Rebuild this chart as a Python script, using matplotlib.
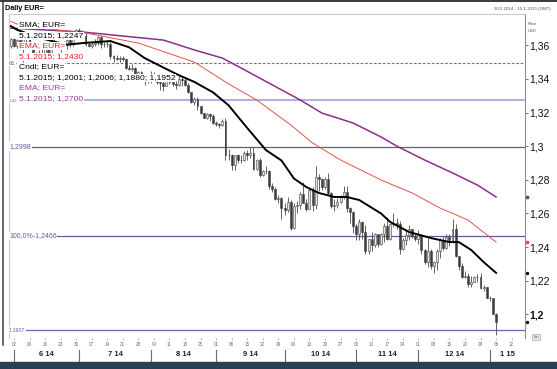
import matplotlib
matplotlib.use('Agg')
import matplotlib.pyplot as plt
import matplotlib.transforms as mtrans
import pandas as pd

plt.rcParams['font.family'] = ['Liberation Sans', 'DejaVu Sans']

# ---------------- data ----------------
axis_days = pd.bdate_range('2014-05-30', '2015-01-16')
dates = pd.bdate_range('2014-05-30', '2015-01-05')

opens = [1.3595, 1.3635, 1.3595, 1.3630, 1.3600, 1.3660, 1.3640, 1.3590, 1.3545, 1.3530,
         1.3545, 1.3540, 1.3575, 1.3545, 1.3595, 1.3610, 1.3600, 1.3595, 1.3605, 1.3630,
         1.3610, 1.3645, 1.3690, 1.3680, 1.3655, 1.3610, 1.3595, 1.3605, 1.3615, 1.3650,
         1.3610, 1.3605, 1.3610, 1.3535, 1.3525, 1.3520, 1.3525, 1.3520, 1.3465, 1.3460,
         1.3465, 1.3430, 1.3440, 1.3405, 1.3395, 1.3390, 1.3425, 1.3415, 1.3380, 1.3375,
         1.3360, 1.3410, 1.3380, 1.3370, 1.3365, 1.3400, 1.3395, 1.3365, 1.3320, 1.3260,
         1.3280, 1.3240, 1.3195, 1.3170, 1.3190, 1.3180, 1.3135, 1.3130, 1.3125, 1.3150,
         1.2945, 1.2950, 1.2890, 1.2945, 1.2915, 1.2920, 1.2960, 1.2950, 1.2960, 1.2865,
         1.2920, 1.2830, 1.2850, 1.2855, 1.2765, 1.2745, 1.2685, 1.2690, 1.2630, 1.2620,
         1.2670, 1.2515, 1.2645, 1.2650, 1.2715, 1.2665, 1.2625, 1.2740, 1.2650, 1.2815,
         1.2805, 1.2760, 1.2805, 1.2720, 1.2645, 1.2650, 1.2670, 1.2700, 1.2730, 1.2630,
         1.2610, 1.2525, 1.2480, 1.2550, 1.2490, 1.2375, 1.2450, 1.2410, 1.2475, 1.2420,
         1.2475, 1.2525, 1.2450, 1.2540, 1.2545, 1.2540, 1.2390, 1.2440, 1.2470, 1.2505,
         1.2465, 1.2450, 1.2470, 1.2385, 1.2310, 1.2375, 1.2285, 1.2310, 1.2375, 1.2440,
         1.2395, 1.2460, 1.2440, 1.2510, 1.2345, 1.2290, 1.2225, 1.2230, 1.2180, 1.2195,
         1.2220, 1.2225, 1.2155, 1.2160, 1.2100, 1.2095, 1.2001]
highs = [1.3645, 1.3645, 1.3640, 1.3640, 1.3670, 1.3680, 1.3650, 1.3595, 1.3560, 1.3570,
         1.3580, 1.3600, 1.3590, 1.3600, 1.3645, 1.3615, 1.3605, 1.3625, 1.3640, 1.3640,
         1.3650, 1.3695, 1.3700, 1.3690, 1.3675, 1.3620, 1.3625, 1.3640, 1.3655, 1.3655,
         1.3620, 1.3625, 1.3620, 1.3545, 1.3545, 1.3535, 1.3535, 1.3525, 1.3480, 1.3490,
         1.3470, 1.3445, 1.3445, 1.3415, 1.3410, 1.3445, 1.3440, 1.3425, 1.3385, 1.3400,
         1.3430, 1.3415, 1.3395, 1.3385, 1.3415, 1.3420, 1.3405, 1.3375, 1.3320, 1.3295,
         1.3290, 1.3240, 1.3200, 1.3200, 1.3195, 1.3190, 1.3150, 1.3140, 1.3160, 1.3165,
         1.2985, 1.2955, 1.2950, 1.2955, 1.2945, 1.2970, 1.2975, 1.2995, 1.2995, 1.2925,
         1.2930, 1.2860, 1.2885, 1.2860, 1.2780, 1.2760, 1.2710, 1.2700, 1.2665, 1.2700,
         1.2680, 1.2660, 1.2675, 1.2730, 1.2790, 1.2685, 1.2750, 1.2760, 1.2885, 1.2835,
         1.2810, 1.2815, 1.2840, 1.2730, 1.2685, 1.2690, 1.2710, 1.2765, 1.2765, 1.2640,
         1.2615, 1.2540, 1.2565, 1.2555, 1.2530, 1.2450, 1.2490, 1.2485, 1.2480, 1.2485,
         1.2545, 1.2580, 1.2545, 1.2600, 1.2575, 1.2555, 1.2455, 1.2500, 1.2530, 1.2510,
         1.2475, 1.2500, 1.2475, 1.2390, 1.2455, 1.2390, 1.2320, 1.2390, 1.2455, 1.2465,
         1.2475, 1.2475, 1.2570, 1.2535, 1.2350, 1.2305, 1.2260, 1.2245, 1.2230, 1.2230,
         1.2240, 1.2245, 1.2175, 1.2165, 1.2110, 1.2095, 1.2006]
lows = [1.3585, 1.3590, 1.3585, 1.3590, 1.3503, 1.3620, 1.3580, 1.3530, 1.3520, 1.3520,
        1.3535, 1.3540, 1.3535, 1.3540, 1.3585, 1.3580, 1.3560, 1.3580, 1.3580, 1.3590,
        1.3595, 1.3635, 1.3670, 1.3645, 1.3595, 1.3590, 1.3585, 1.3595, 1.3600, 1.3585,
        1.3590, 1.3590, 1.3520, 1.3500, 1.3515, 1.3500, 1.3505, 1.3460, 1.3450, 1.3445,
        1.3420, 1.3420, 1.3400, 1.3365, 1.3375, 1.3375, 1.3410, 1.3370, 1.3335, 1.3330,
        1.3360, 1.3370, 1.3355, 1.3340, 1.3360, 1.3360, 1.3360, 1.3315, 1.3255, 1.3245,
        1.3215, 1.3190, 1.3165, 1.3160, 1.3150, 1.3130, 1.3120, 1.3110, 1.3120, 1.2920,
        1.2920, 1.2860, 1.2860, 1.2900, 1.2900, 1.2910, 1.2920, 1.2930, 1.2860, 1.2860,
        1.2815, 1.2820, 1.2835, 1.2745, 1.2730, 1.2680, 1.2660, 1.2570, 1.2590, 1.2610,
        1.2500, 1.2505, 1.2605, 1.2625, 1.2660, 1.2615, 1.2625, 1.2615, 1.2625, 1.2735,
        1.2740, 1.2745, 1.2710, 1.2630, 1.2615, 1.2630, 1.2665, 1.2685, 1.2610, 1.2545,
        1.2485, 1.2440, 1.2445, 1.2450, 1.2360, 1.2360, 1.2375, 1.2400, 1.2400, 1.2415,
        1.2430, 1.2445, 1.2440, 1.2520, 1.2510, 1.2360, 1.2385, 1.2415, 1.2445, 1.2455,
        1.2435, 1.2420, 1.2360, 1.2300, 1.2280, 1.2270, 1.2245, 1.2265, 1.2335, 1.2380,
        1.2390, 1.2405, 1.2425, 1.2340, 1.2265, 1.2215, 1.2215, 1.2165, 1.2165, 1.2190,
        1.2195, 1.2150, 1.2140, 1.2095, 1.2080, 1.2000, 1.1880]
closes = [1.3635, 1.3595, 1.3630, 1.3600, 1.3660, 1.3640, 1.3590, 1.3545, 1.3530, 1.3545,
          1.3540, 1.3575, 1.3545, 1.3595, 1.3610, 1.3600, 1.3595, 1.3605, 1.3630, 1.3610,
          1.3645, 1.3690, 1.3680, 1.3655, 1.3610, 1.3595, 1.3605, 1.3615, 1.3650, 1.3610,
          1.3605, 1.3610, 1.3535, 1.3525, 1.3520, 1.3525, 1.3520, 1.3465, 1.3460, 1.3465,
          1.3430, 1.3440, 1.3405, 1.3395, 1.3390, 1.3425, 1.3415, 1.3380, 1.3375, 1.3360,
          1.3410, 1.3380, 1.3370, 1.3365, 1.3400, 1.3395, 1.3365, 1.3320, 1.3260, 1.3280,
          1.3240, 1.3195, 1.3170, 1.3190, 1.3180, 1.3135, 1.3130, 1.3125, 1.3150, 1.2945,
          1.2950, 1.2890, 1.2945, 1.2915, 1.2920, 1.2960, 1.2950, 1.2960, 1.2865, 1.2920,
          1.2830, 1.2850, 1.2855, 1.2765, 1.2745, 1.2685, 1.2690, 1.2630, 1.2620, 1.2670,
          1.2515, 1.2645, 1.2650, 1.2715, 1.2665, 1.2625, 1.2740, 1.2650, 1.2815, 1.2805,
          1.2760, 1.2805, 1.2720, 1.2645, 1.2650, 1.2670, 1.2700, 1.2730, 1.2630, 1.2610,
          1.2525, 1.2480, 1.2550, 1.2490, 1.2375, 1.2450, 1.2410, 1.2475, 1.2420, 1.2475,
          1.2525, 1.2450, 1.2540, 1.2545, 1.2540, 1.2390, 1.2440, 1.2470, 1.2505, 1.2465,
          1.2450, 1.2470, 1.2385, 1.2310, 1.2375, 1.2285, 1.2310, 1.2375, 1.2440, 1.2395,
          1.2460, 1.2440, 1.2510, 1.2345, 1.2290, 1.2225, 1.2230, 1.2180, 1.2195, 1.2220,
          1.2225, 1.2155, 1.2160, 1.2100, 1.2095, 1.2001, 1.1952]

sma_dates = ['2014-05-30', '2014-06-03', '2014-06-12', '2014-06-25', '2014-07-02', '2014-07-15',
             '2014-07-23', '2014-07-30', '2014-08-07', '2014-08-14', '2014-08-21', '2014-08-29',
             '2014-09-05', '2014-09-15', '2014-09-23', '2014-09-30', '2014-10-06', '2014-10-10',
             '2014-10-16', '2014-10-23', '2014-10-29', '2014-11-04', '2014-11-13', '2014-11-18',
             '2014-11-26', '2014-12-05', '2014-12-15', '2014-12-18', '2014-12-24', '2014-12-30',
             '2015-01-05']
sma_vals = [1.3714, 1.3692, 1.3645, 1.3603, 1.3613, 1.3625, 1.3588, 1.3524, 1.3468, 1.3422,
            1.3382, 1.3320, 1.3243, 1.3108, 1.2977, 1.2915, 1.2808, 1.2757, 1.2722, 1.2698,
            1.2698, 1.2680, 1.2600, 1.2549, 1.2490, 1.2454, 1.2430, 1.2430, 1.2383, 1.2311,
            1.2247]

ema_red_dates = ['2014-05-30', '2014-06-03', '2014-06-18', '2014-07-03', '2014-07-28', '2014-08-21',
                 '2014-09-05', '2014-09-18', '2014-10-03', '2014-10-14', '2014-10-27', '2014-11-13',
                 '2014-11-27', '2014-12-10', '2014-12-23', '2014-12-29', '2015-01-05']
ema_red_vals = [1.3742, 1.3726, 1.3695, 1.3673, 1.3613, 1.3500, 1.3370, 1.3275, 1.3126, 1.3019,
                1.2918, 1.2799, 1.2722, 1.2632, 1.2561, 1.2502, 1.2430]

ema_pur_dates = ['2014-05-30', '2014-07-02', '2014-08-07', '2014-08-21', '2014-09-03', '2014-09-11',
                 '2014-10-08', '2014-10-17', '2014-10-31', '2014-11-13', '2014-11-20', '2014-12-03',
                 '2014-12-16', '2014-12-26', '2015-01-05']
ema_pur_vals = [1.3702, 1.3679, 1.3631, 1.3572, 1.3524, 1.3465, 1.3275, 1.3197, 1.3138, 1.3055,
                1.3001, 1.2918, 1.2841, 1.2769, 1.2698]

level_vals = [1.3493, 1.3274, 1.2998, 1.2466, 1.1907]
level_labels = ['61', '1,32', '1,2998', '100,0%-1,2466', '1.1907']

ytick_vals = [1.20, 1.22, 1.24, 1.26, 1.28, 1.30, 1.32, 1.34, 1.36]
ytick_labels = ['1,2', '1,22', '1,24', '1,26', '1,28', '1,3', '1,32', '1,34', '1,36']

week_dates = pd.date_range('2014-06-02', '2015-01-12', freq='7D')
week_labels = ['02', '09', '16', '23', '30', '07', '14', '21', '28', '04', '11', '18', '25',
               '01', '08', '15', '22', '29', '06', '13', '20', '27', '03', '10', '17', '24',
               '01', '08', '15', '22', '29', '05', '12']
month_starts = ['2014-06-02', '2014-07-01', '2014-08-01', '2014-09-01', '2014-10-01',
                '2014-11-03', '2014-12-01', '2015-01-01']
month_labels = ['6 14', '7 14', '8 14', '9 14', '10 14', '11 14', '12 14', '1 15']

legend_lines = [('SMA; EUR=', 'k'), ('5.1.2015; 1,2247', 'k'),
                ('EMA; EUR=', 'r'), ('5.1.2015; 1,2430', 'r'),
                ('Cndl; EUR=', 'k'), ('5.1.2015; 1,2001; 1,2006; 1,1880; 1,1952', 'k'),
                ('EMA; EUR=', 'p'), ('5.1.2015; 1,2700', 'p')]

# ---------------- drawing ----------------
W, H = 557, 369
fig = plt.figure(figsize=(W / 100, H / 100), dpi=100)
fig.patch.set_facecolor('white')

def fx(px):
    return px / W

def fy(py):
    return 1 - py / H

ax = fig.add_axes([fx(9), fy(338), fx(525) - fx(9), fy(14) - fy(338)])
ax.set_facecolor('white')

def pos(d):
    return axis_days.get_loc(pd.Timestamp(d))

idx = list(range(len(dates)))
RED = '#e8524a'
PUR = '#8a2f8a'
LEV = '#5c5c9e'
txtcol = {'k': '#000000', 'r': '#e32222', 'p': '#9b3a9b'}

# horizontal levels
ax.axhline(level_vals[0], color='#6f6fb3', lw=0.8, ls=(0, (2.5, 1.5)), zorder=1)
ax.axhline(level_vals[1], color='#a9a9dc', lw=1.3, zorder=1)
ax.axhline(level_vals[2], color=LEV, lw=0.9, zorder=1)
ax.axhline(level_vals[3], color=LEV, lw=0.9, zorder=1)
ax.axhline(level_vals[4], color='#6a6aaa', lw=0.9, zorder=1)

lbl_sizes = [4.3, 3.2, 5.0, 5.0, 3.8]
for v, t, s in zip(level_vals, level_labels, lbl_sizes):
    ax.text(0.0, v, t, transform=mtrans.blended_transform_factory(ax.transAxes, ax.transData),
            ha='left', va='center', fontsize=s, color=LEV, zorder=6,
            bbox=dict(boxstyle='square,pad=0.12', fc='white', ec='none'))

# moving averages
ax.plot([pos(d) for d in ema_pur_dates], ema_pur_vals, color=PUR, lw=1.1, zorder=2)
ax.plot([pos(d) for d in ema_red_dates], ema_red_vals, color=RED, lw=0.7, zorder=2)

# candles
for i in idx:
    o, h, l, c = opens[i], highs[i], lows[i], closes[i]
    ax.vlines(i, l, h, color='#4a4a4a', lw=0.6, zorder=3)
    up = c >= o
    ax.bar(i, max(abs(c - o), 0.00015), bottom=min(o, c), width=0.62,
           color='#e4e4e4' if up else '#3c3c3c', edgecolor='#404040', lw=0.4, zorder=4)

ax.plot([pos(d) for d in sma_dates], sma_vals, color='#000000', lw=1.4, zorder=5)

ax.set_xlim(-0.6, 165.3)
ax.set_ylim(1.18596, 1.37859)

# y axis on right
ax.yaxis.tick_right()
ax.set_yticks(ytick_vals)
ax.set_yticklabels(ytick_labels)
ax.tick_params(axis='y', length=2.2, width=0.6, color='#606060', pad=1, labelsize=7.5,
               labelcolor='#111111')
for lab in ax.get_yticklabels():
    if lab.get_text() == '1,2':
        lab.set_fontweight('bold')

# x axis
ax.set_xticks([pos(d) for d in week_dates])
ax.set_xticklabels(week_labels)
ax.tick_params(axis='x', length=1.5, width=0.5, color='#909090', pad=1.2, labelsize=3.3,
               labelcolor='#707070')

for sp in ['top', 'left']:
    ax.spines[sp].set_color('#c9c9d6')
    ax.spines[sp].set_linewidth(0.8)
ax.spines['right'].set_color('#8c8c8c')
ax.spines['right'].set_linewidth(0.8)
ax.spines['bottom'].set_visible(False)

# month labels and separators
bt = mtrans.blended_transform_factory(ax.transData, fig.transFigure)
m_pos = [pos(d) for d in month_starts] + [165.3]
for k, lab in enumerate(month_labels):
    ax.plot([m_pos[k], m_pos[k]], [fy(350), fy(361)], transform=bt, color='#6a6a6a',
            lw=0.8, clip_on=False)
    ax.text((m_pos[k] + m_pos[k + 1]) / 2, fy(355), lab, transform=bt, ha='center',
            va='center', fontsize=5.5, fontweight='bold', color='#222222')

# last-value markers on the right
rt = mtrans.blended_transform_factory(ax.transAxes, ax.transData)
ax.plot([1.004], [ema_pur_vals[-1]], marker='*', ms=2.5, color=PUR, transform=rt, clip_on=False)
ax.plot([1.004], [ema_red_vals[-1]], marker='*', ms=2.5, color=RED, transform=rt, clip_on=False)
ax.plot([1.004], [sma_vals[-1]], marker='o', ms=1.4, color='k', transform=rt, clip_on=False)
ax.plot([1.004], [closes[-1]], marker='o', ms=1.4, color='k', transform=rt, clip_on=False)

# legend text block
ys = [25, 36, 46, 57, 67, 78, 88, 99]
for (t, c), y in zip(legend_lines, ys):
    fig.text(fx(19), fy(y), t, ha='left', va='center', fontsize=6.1, color=txtcol[c],
             bbox=dict(boxstyle='square,pad=0.08', fc='white', ec='none'))

# header texts
fig.text(fx(5), fy(9), 'Daily EUR=', ha='left', va='center', fontsize=5.2, fontweight='bold')
fig.text(fx(551), fy(9), '30.5.2014 - 15.1.2015 (GMT)', ha='right', va='center',
         fontsize=3.2, color='#555555')
fig.text(fx(528), fy(24), 'Price', ha='left', va='center', fontsize=3.0, color='#555555')
fig.text(fx(528), fy(31), 'USD', ha='left', va='center', fontsize=3.0, color='#555555')
fig.text(fx(536), fy(337), 'Lin', ha='center', va='center', fontsize=3.0, color='#555555',
         bbox=dict(boxstyle='square,pad=0.25', fc='#e6e6e6', ec='#9a9a9a', lw=0.4))

# window frame pieces
fig.add_artist(plt.Line2D([0, 1], [fy(1.2), fy(1.2)], color='#2a2a2a', lw=1.3))
fig.add_artist(plt.Line2D([fx(3), fx(3)], [fy(1), fy(345)], color='#3a3a3a', lw=1.1))
fig.add_artist(plt.Rectangle((0, 0), 1, 7 / H, color='#2a3e55', transform=fig.transFigure))

fig.savefig('out.png', dpi=100, facecolor='white')
